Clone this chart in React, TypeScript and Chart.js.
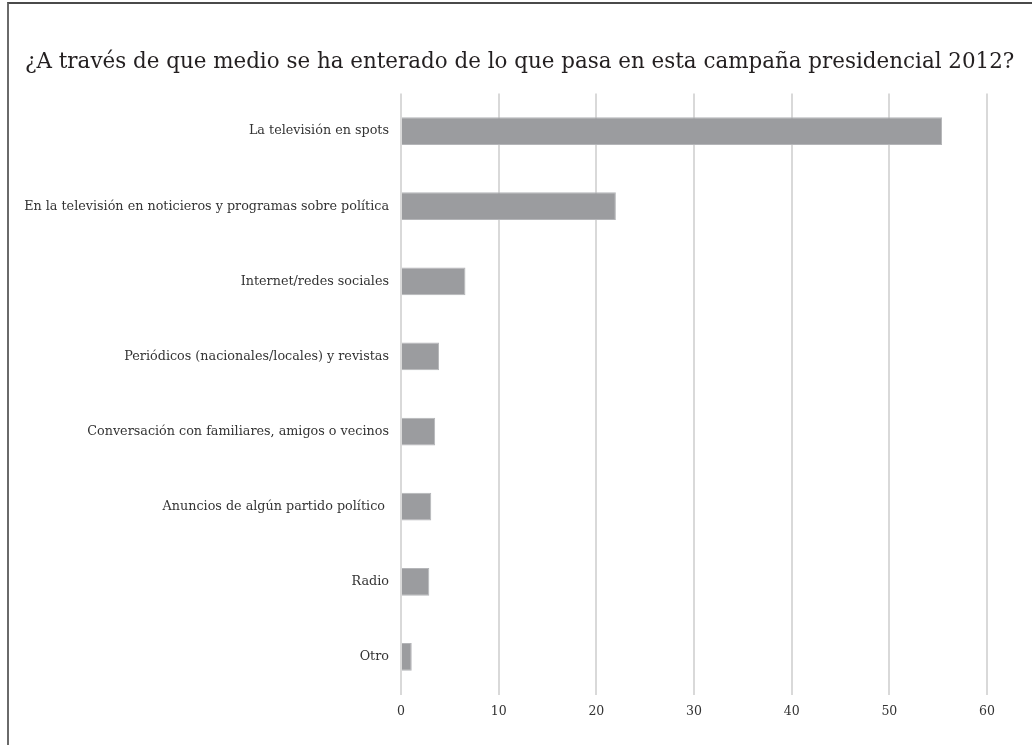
import React, { useEffect, useRef } from "react";
import { Chart, registerables } from "chart.js";

Chart.register(...registerables);

const titleText = "¿A través de que medio se ha enterado de lo que pasa en esta campaña presidencial 2012?";
const categories = [
  "La televisión en spots",
  "En la televisión en noticieros y programas sobre política",
  "Internet/redes sociales",
  "Periódicos (nacionales/locales) y revistas",
  "Conversación con familiares, amigos o vecinos",
  "Anuncios de algún partido político ",
  "Radio",
  "Otro",
];
const values = [55.4, 22.0, 6.6, 3.9, 3.5, 3.1, 2.9, 1.1];
const xMin = 0;
const xMax = 60;
const xStep = 10;

const FONT = "'DejaVu Serif', 'Liberation Serif', serif";

const titlePlugin = {
  id: "leftTitle",
  afterDraw(chart: any) {
    const ctx = chart.ctx as CanvasRenderingContext2D;
    ctx.save();
    const base = 20;
    ctx.font = `${base}px ${FONT}`;
    const w = ctx.measureText(titleText).width;
    const size = Math.min(24, (base * 990) / w);
    ctx.font = `${size}px ${FONT}`;
    ctx.fillStyle = "#231f20";
    ctx.textAlign = "left";
    ctx.textBaseline = "alphabetic";
    ctx.fillText(titleText, 25, 68);
    ctx.restore();
  },
};

export default function App() {
  const ref = useRef<HTMLCanvasElement | null>(null);
  useEffect(() => {
    document.body.style.margin = "0";
    const ctx = ref.current!;
    const chart = new Chart(ctx, {
      type: "bar",
      data: {
        labels: categories,
        datasets: [
          {
            data: values,
            backgroundColor: "#9b9c9f",
            borderColor: "#b4b5b8",
            borderWidth: 1,
            categoryPercentage: 1,
            barPercentage: 0.37,
          },
        ],
      },
      options: {
        indexAxis: "y",
        animation: false,
        responsive: false,
        devicePixelRatio: 1,
        layout: { padding: { left: 24, right: 45, top: 93.5, bottom: 0 } },
        plugins: {
          legend: { display: false },
          tooltip: { enabled: false },
          title: { display: false },
        },
        scales: {
          x: {
            type: "linear",
            min: xMin,
            max: xMax,
            ticks: {
              stepSize: xStep,
              color: "#333333",
              font: { family: FONT, size: 12.5 },
              padding: 10,
            },
            grid: { color: "#d9d9d9", lineWidth: 2, drawTicks: false },
            border: { display: false },
            afterFit: (s: any) => {
              s.height = 50.5;
            },
          },
          y: {
            ticks: {
              color: "#333333",
              font: { family: FONT, size: 12.75 },
              padding: 12,
              autoSkip: false,
            },
            grid: { display: false, drawTicks: false },
            border: { display: false },
            afterFit: (s: any) => {
              s.width = 401 - 24;
            },
          },
        },
      },
      plugins: [titlePlugin],
    });
    return () => chart.destroy();
  }, []);
  return (
    <div style={{ position: "relative", width: 1032, height: 745, background: "#fff" }}>
      <canvas ref={ref} width={1032} height={745} style={{ position: "absolute", left: 0, top: 0 }} />
      <div
        style={{
          position: "absolute",
          left: 7,
          top: 2,
          width: 1025,
          height: 743,
          borderTop: "2px solid #4a4a4a",
          borderLeft: "2px solid #6a6a6a",
          boxSizing: "border-box",
          pointerEvents: "none",
        }}
      />
    </div>
  );
}
